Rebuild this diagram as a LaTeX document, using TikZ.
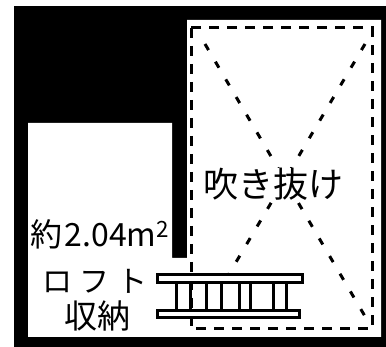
\documentclass[tikz,border=0pt]{standalone}
\usepackage{fontspec}
\newfontfamily\jpfont{Noto Sans CJK JP}
\begin{document}
\begin{tikzpicture}[
    x=1pt, y=-1pt,
    label/.style={inner sep=0pt, font=\jpfont\fontsize{33}{33}\selectfont},
    void/.style={line width=3pt, dash pattern=on 10pt off 8pt},
    cross/.style={line width=3pt, dash pattern=on 7pt off 13.5pt},
    rail/.style={draw=black, fill=white, line width=3pt},
    rung/.style={line width=3pt}
]
    \useasboundingbox (0,0) rectangle (386,347);
    \fill[white] (0,0) rectangle (386,347);
    \fill[black] (14,6) rectangle (386,347);
    \fill[white] (28,123) -- (172,123) -- (172,258) -- (187,258) -- (187,20)
        -- (381,20) -- (381,337) -- (28,337) -- cycle;
    \draw[void] (191,28) rectangle (372,329);
    \coordinate (xa) at (205,44);
    \coordinate (xb) at (366,318);
    \coordinate (xc) at (365,44);
    \coordinate (xd) at (229,274);
    \draw[cross] (xa) -- (xb);
    \draw[cross] (xc) -- (xd);
    \node[label, fill=white, inner xsep=1pt, font=\jpfont\fontsize{35}{35}\selectfont] (void) at (273,184) {吹き抜け};
    \node[label, font=\jpfont\fontsize{32}{32}\selectfont] (area) at (100,234) {約\hspace{2pt}2.04m\textsuperscript{2}};
    \node[label, font=\jpfont\fontsize{30}{30}\selectfont] (loft) at (95,281) {ロ\hspace{8pt}フ\hspace{8pt}ト};
    \node[label] (store) at (97,316) {収納};
    \foreach \px in {176,190,206,221,239,250,273,286}
        \draw[rung] (\px,279) -- (\px,315);
    \draw[rail] (157,275) rectangle (302,283);
    \draw[rail] (157,311) rectangle (299,318);
\end{tikzpicture}
\end{document}
